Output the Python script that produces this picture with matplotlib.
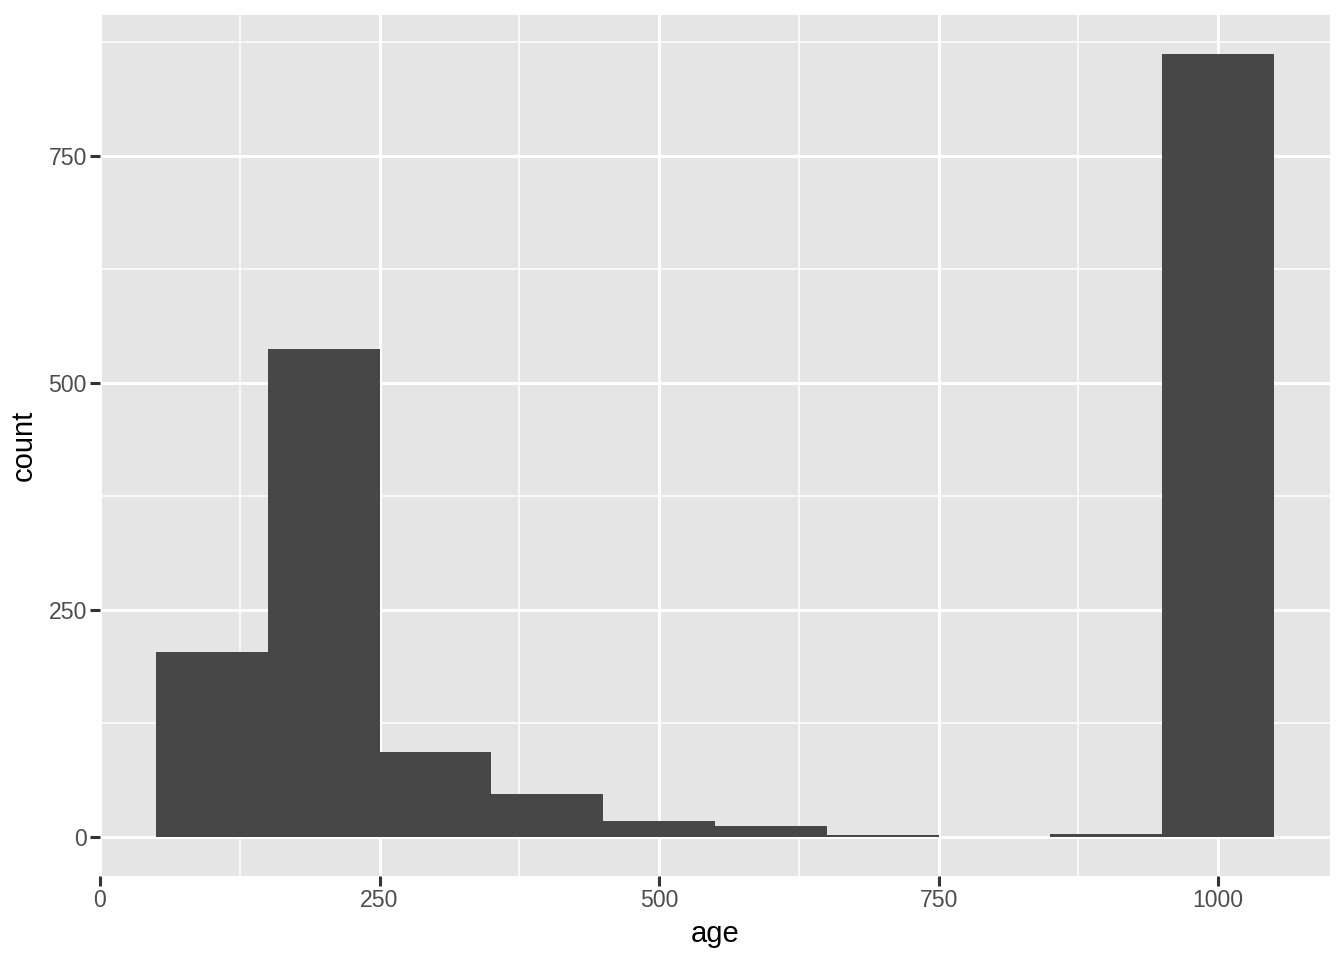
import matplotlib.pyplot as plt
from matplotlib.ticker import MultipleLocator

# Data: histogram of age, binwidth 100
bin_centers = [100, 200, 300, 400, 500, 600, 700, 800, 900, 1000]
counts = [204, 537, 94, 47, 18, 12, 2, 0, 3, 862]
bin_width = 100

plt.rcParams['font.family'] = ['Liberation Sans', 'DejaVu Sans']

fig = plt.figure(figsize=(6.72, 4.8), dpi=200)
ax = fig.add_axes([100 / 1344, 1 - 876 / 960, 1230 / 1344, 861 / 960])

ax.set_facecolor('#e5e5e5')
ax.bar(bin_centers, counts, width=bin_width, color='#474747', zorder=3)

ax.set_xlim(0, 1100)
ax.set_ylim(-43.1, 905.2)
ax.xaxis.set_minor_locator(MultipleLocator(125))
ax.yaxis.set_minor_locator(MultipleLocator(125))
ax.set_xticks([0, 250, 500, 750, 1000])
ax.set_yticks([0, 250, 500, 750])

ax.grid(which='major', color='white', linewidth=1.1, zorder=0)
ax.grid(which='minor', color='white', linewidth=0.55, zorder=0)
ax.set_axisbelow(True)

for s in ax.spines.values():
    s.set_visible(False)

ax.tick_params(which='major', length=3.5, width=1.1, color='#333333',
               labelsize=8.3, labelcolor='#4d4d4d', pad=1.2)
ax.tick_params(which='minor', length=0)

ax.set_xlabel('age', fontsize=10.5, labelpad=3)
ax.set_ylabel('count', fontsize=10.5, labelpad=4)

fig.savefig('out.png', dpi=200)
